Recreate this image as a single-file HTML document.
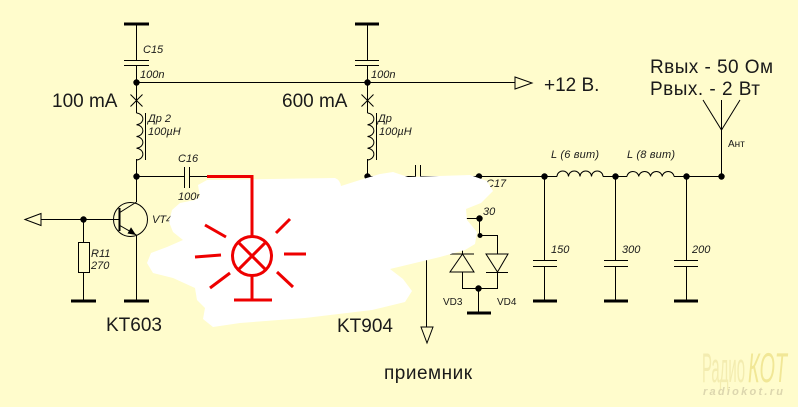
<!DOCTYPE html>
<html><head><meta charset="utf-8"><style>
html,body{margin:0;padding:0;background:#fffccc;}
svg{display:block;}
text{font-family:"Liberation Sans","DejaVu Sans",sans-serif;fill:#1a1a1a;}
.big{font-size:19px;}
.it{font-size:11px;font-style:italic;}
.sm{font-size:10px;}
</style></head><body>
<svg width="798" height="407" viewBox="0 0 798 407" xmlns="http://www.w3.org/2000/svg">
<rect x="0" y="0" width="798" height="407" fill="#fffccc"/>

<!-- watermark -->
<text x="702" y="382" font-size="42" textLength="43" lengthAdjust="spacingAndGlyphs" style="fill:#f3ecb0;font-family:'Liberation Sans Narrow','Liberation Sans',sans-serif">Радио</text>
<text x="748" y="382" font-size="42" font-style="italic" textLength="39" lengthAdjust="spacingAndGlyphs" style="fill:#f1e796;font-family:'Liberation Sans Narrow','Liberation Sans',sans-serif">КОТ</text>
<text x="703" y="395" font-size="11" font-weight="bold" font-style="italic" textLength="80" lengthAdjust="spacing" style="fill:#dcd6ae">radiokot.ru</text>

<g stroke="#000" stroke-width="1" fill="none">
  <!-- left column -->
  <path d="M124 24H149M355 24H379" stroke-width="3"/>
  <path d="M136.5 24V60M124 60.5H149M124 65.5H149M136.5 65V113"/>
  <path d="M130.5 94.5L142.5 106.5M142.5 94.5L130.5 106.5"/>
  <path d="M136.5 113a7 5.9 0 0 1 0 11.75a7 5.9 0 0 1 0 11.75a7 5.9 0 0 1 0 11.75a7 5.9 0 0 1 0 11.75"/>
  <path d="M145.5 113V160"/>
  <path d="M136.5 159V202M136.5 235V301"/>
  <path d="M124 301H149M71 301H96" stroke-width="3"/>
  <path d="M136 82.5H515"/>
  <!-- C16 -->
  <path d="M136 176.5H184.5M184.5 167V188M189.5 167V188M189.5 176.5H208"/>
  <!-- transistor -->
  <circle cx="130.5" cy="219.5" r="17"/>
  <path d="M41 219.5H119"/>
  <path d="M119.5 208V231" stroke-width="2"/>
  <path d="M119 213L136.5 202M119 225L136.5 235"/>
  <!-- R11 -->
  <path d="M83.5 219V242M83.5 272V301"/>
  <rect x="78.5" y="242.5" width="11" height="30"/>
  <polygon points="25,219.5 41,213.5 41,225.5" fill="#fffccc"/>

  <!-- middle column -->
  <path d="M367.5 24V60M355 60.5H379M355 65.5H379M367.5 65V113"/>
  <path d="M361.5 94.5L373.5 106.5M373.5 94.5L361.5 106.5"/>
  <path d="M367.5 113a7 5.9 0 0 1 0 11.75a7 5.9 0 0 1 0 11.75a7 5.9 0 0 1 0 11.75a7 5.9 0 0 1 0 11.75"/>
  <path d="M376.5 113V160"/>
  <path d="M367.5 159V176.5H415.5M415.5 165V188M420.5 165V188M420.5 176.5H557"/>
  <polygon points="515,77 532,83 515,89" fill="#fffccc"/>

  <!-- diode branch -->
  <path d="M462 218.5H479.5V235.5H497.5V254"/>
  <polygon points="486,254 508,254 497.5,272"/>
  <path d="M486 272.5H508M497.5 272V288.5H462.5V272"/>
  <polygon points="450,272 474,272 462.5,254"/>
  <path d="M450 254H474M462.5 230V254"/>
  <path d="M478.5 288V313"/>
  <path d="M467 313H491" stroke-width="3"/>
  <path d="M426.5 240V327"/>
  <polygon points="421,327 433,327 427,343" fill="#fffccc"/>

  <!-- filter -->
  <path d="M557 176.5a5.75 5.5 0 0 1 11.5 0a5.75 5.5 0 0 1 11.5 0a5.75 5.5 0 0 1 11.5 0a5.75 5.5 0 0 1 11.5 0"/>
  <path d="M603 176.5H627"/>
  <path d="M627 176.5a5.9 5.5 0 0 1 11.75 0a5.9 5.5 0 0 1 11.75 0a5.9 5.5 0 0 1 11.75 0a5.9 5.5 0 0 1 11.75 0"/>
  <path d="M674 176.5H721.5"/>
  <path d="M544.5 176V260M533 260.5H557M533 266.5H557M544.5 266V301"/>
  <path d="M615.5 176V260M604 260.5H628M604 266.5H628M615.5 266V301"/>
  <path d="M686.5 176V260M674 260.5H698M674 266.5H698M686.5 266V301"/>
  <path d="M533 301H557M604 301H628M674 301H698" stroke-width="3"/>
  <path d="M721.5 100V176.5M703 100L721.5 130L740 100"/>
</g>
<!-- emitter arrow -->
<polygon points="136,235 127.5,233.5 131,227.2" fill="#000"/>
<!-- dots -->
<g fill="#000">
  <circle cx="136.5" cy="82.5" r="3.2"/>
  <circle cx="367.5" cy="82.5" r="3.2"/>
  <circle cx="136.5" cy="176.5" r="3.2"/>
  <circle cx="83.5" cy="219.5" r="3.2"/>
  <circle cx="367.5" cy="176.5" r="3.2"/>
  <circle cx="479" cy="176.5" r="3.2"/>
  <circle cx="479.5" cy="218.5" r="3.2"/>
  <circle cx="480" cy="235.5" r="2.5"/>
  <circle cx="478.5" cy="288.5" r="3.2"/>
  <circle cx="544.5" cy="176.5" r="3.2"/>
  <circle cx="615.5" cy="176.5" r="3.2"/>
  <circle cx="686.5" cy="176.5" r="3.2"/>
  <circle cx="721.5" cy="176.5" r="3.2"/>
</g>

<!-- labels -->
<text class="it" x="143" y="53">C15</text>
<text class="it" x="140" y="78" font-size="10.5">100n</text>
<text class="it" x="371" y="78" font-size="10.5">100n</text>
<text class="it" x="148" y="122">Др 2</text>
<text class="it" x="148" y="135">100µH</text>
<text class="it" x="378" y="122">Др</text>
<text class="it" x="379" y="135">100µH</text>
<text class="it" x="178" y="162">C16</text>
<text class="it" x="178" y="200">100n</text>
<text class="it" x="152" y="223">VT4</text>
<text class="it" x="91" y="257">R11</text>
<text class="it" x="91" y="269">270</text>
<text class="it" x="486" y="187">C17</text>
<text class="it" x="483" y="215">30</text>
<text class="it" x="551" y="253">150</text>
<text class="it" x="622" y="253">300</text>
<text class="it" x="692" y="253">200</text>
<text class="it" x="551" y="158" font-size="10.5" textLength="48">L (6 вит)</text>
<text class="it" x="627" y="158" font-size="10.5" textLength="48">L (8 вит)</text>
<text class="sm" x="728" y="147" font-size="10.5">Ант</text>
<text class="sm" x="443" y="305">VD3</text>
<text class="sm" x="497" y="305">VD4</text>

<text class="big" x="52" y="107">100 mA</text>
<text class="big" x="282" y="107">600 mA</text>
<text class="big" x="544" y="91">+12 В.</text>
<text class="big" x="650" y="73" textLength="123">Rвых - 50 Ом</text>
<text class="big" x="650" y="95" textLength="110">Рвых. - 2 Вт</text>
<text class="big" x="106" y="331">KT603</text>
<text class="big" x="337" y="332">KT904</text>
<text class="big" x="384" y="379" textLength="88">приемник</text>

<!-- white brush blob -->
<path fill="#ffffff" d="M207 180 L335 178 Q340 180 341 186 L360 180 L380 174 L393 172 L408 177 L470 175 L487 181 L493 191 L481 203 L466 209 L467 220 L477 232 L475 244 L465 250 L440 257 L390 269 L403 279 L412 291 L405 302 L372 310 L305 318 L240 323 L213 327 L203 319 L205 308 L197 300 L195 288 L173 278 L153 273 L147 263 L151 253 L167 247 L183 240 L173 232 L169 222 L172 210 L180 203 L195 200 L200 197 L198 185 Z"/>

<!-- red lamp -->
<g stroke="#ee0000" stroke-width="3" fill="none">
  <path d="M207 176.5H252V236"/>
  <circle cx="252" cy="256" r="19.5"/>
  <path d="M238.2 242.2L265.8 269.8M265.8 242.2L238.2 269.8"/>
  <path d="M252 275.5V300M234 300H272"/>
  <path d="M205 225L226 237M195 257L221 255M210 288L230 273M276 233L290 219M284 254H306M277 272L293 287"/>
</g>
</svg>
</body></html>
